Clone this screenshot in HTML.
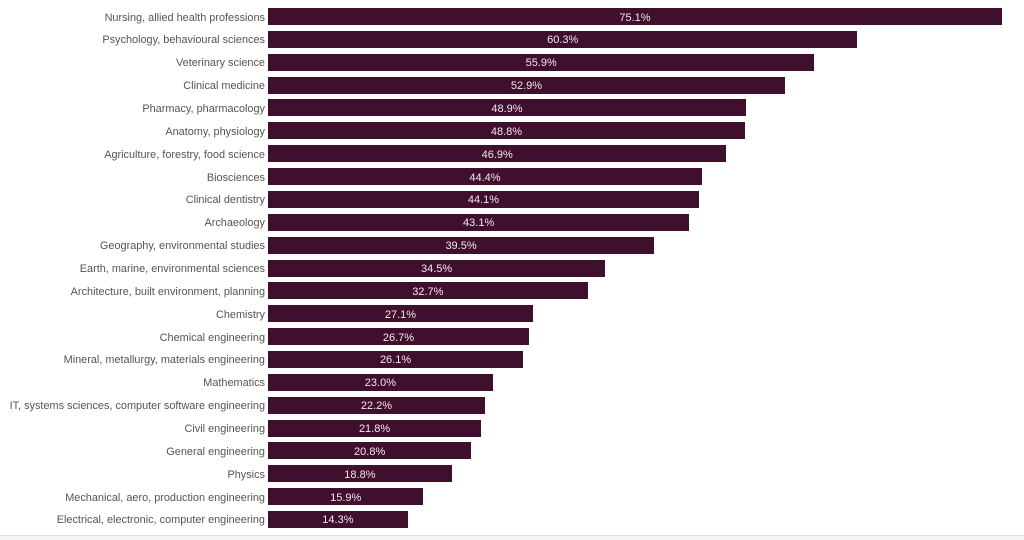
<!DOCTYPE html>
<html><head><style>
body{margin:0;width:1024px;height:539px;background:#fff;position:relative;overflow:hidden;font-family:"Liberation Sans",sans-serif;}
.l{position:absolute;right:759px;font-size:10.9px;color:#555;white-space:nowrap;line-height:17px;padding-top:1.5px;}
.b{position:absolute;left:268px;height:17px;background:#3f0f2d;}
.b span{position:absolute;left:0;right:0;top:1.5px;text-align:center;color:#f2e6ec;font-size:11px;line-height:17px;}
#f{position:absolute;left:0;top:535px;width:1024px;height:4px;background:#f4f4f4;border-top:1px solid #e0e0e0;}
</style></head><body>
<div id="c"></div>
<div id="f"></div>
<script>
var d=[["Nursing, allied health professions",75.1],["Psychology, behavioural sciences",60.3],["Veterinary science",55.9],["Clinical medicine",52.9],["Pharmacy, pharmacology",48.9],["Anatomy, physiology",48.8],["Agriculture, forestry, food science",46.9],["Biosciences",44.4],["Clinical dentistry",44.1],["Archaeology",43.1],["Geography, environmental studies",39.5],["Earth, marine, environmental sciences",34.5],["Architecture, built environment, planning",32.7],["Chemistry",27.1],["Chemical engineering",26.7],["Mineral, metallurgy, materials engineering",26.1],["Mathematics",23.0],["IT, systems sciences, computer software engineering",22.2],["Civil engineering",21.8],["General engineering",20.8],["Physics",18.8],["Mechanical, aero, production engineering",15.9],["Electrical, electronic, computer engineering",14.3]];
var h="";
d.forEach(function(r,i){var t=(8+i*22.86).toFixed(1);var w=(r[1]*9.774).toFixed(1);
h+='<div class="l" style="top:'+t+'px">'+r[0]+'</div><div class="b" style="top:'+t+'px;width:'+w+'px"><span>'+r[1].toFixed(1)+'%</span></div>';});
document.getElementById("c").innerHTML=h;
</script>
</body></html>
